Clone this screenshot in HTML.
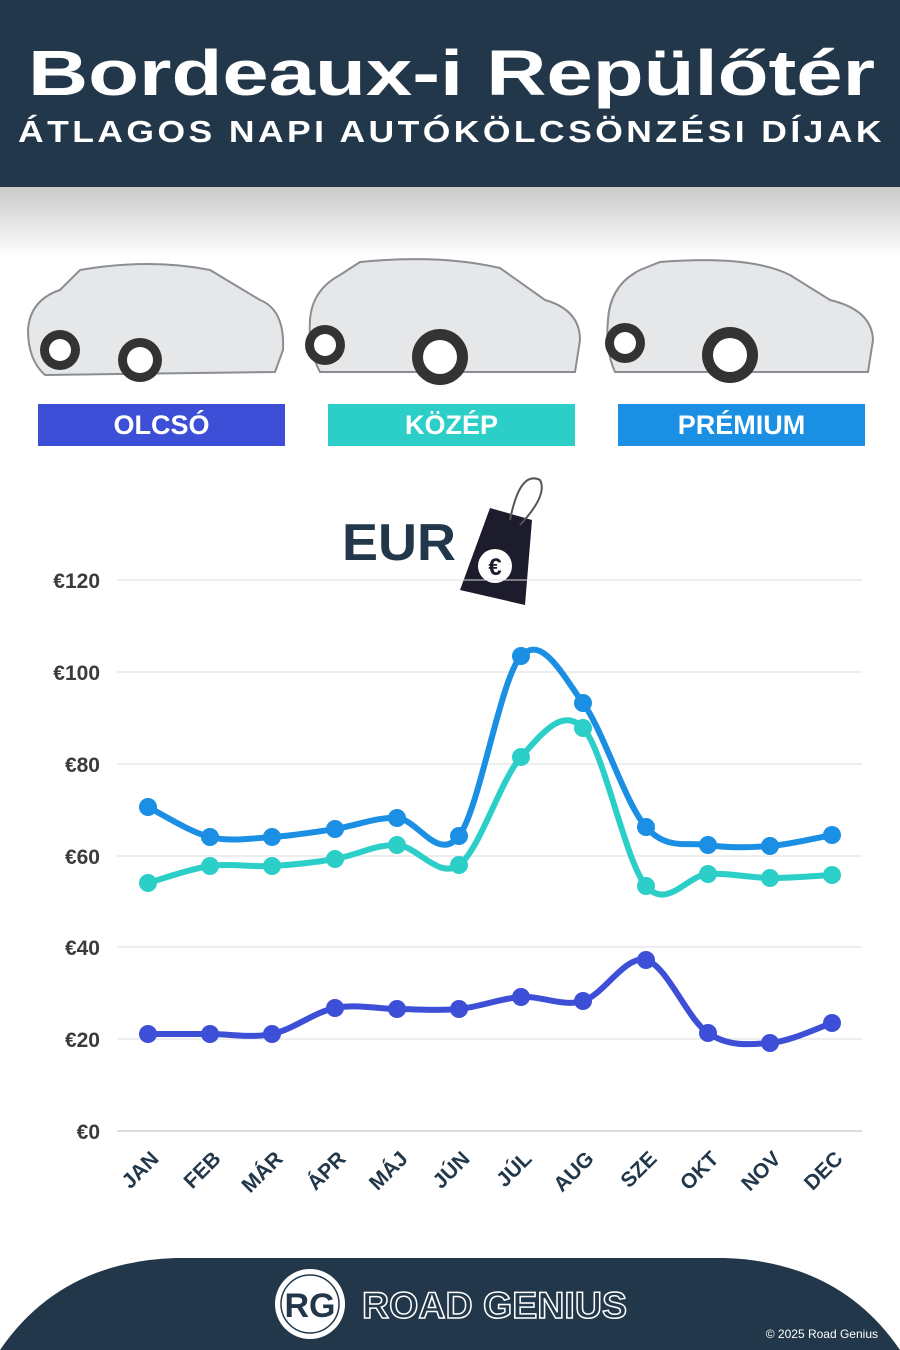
<!DOCTYPE html>
<html><head><meta charset="utf-8"><style>
body{margin:0;width:900px;height:1350px;overflow:hidden;background:#fff;font-family:"Liberation Sans","DejaVu Sans",sans-serif;position:relative}
.hdr{position:absolute;left:0;top:0;width:900px;height:187px;background:#22384a}
.shade{position:absolute;top:187px;left:0;width:900px;height:70px;background:linear-gradient(#c9c9c9,#fff)}
.lab{position:absolute;top:404px;height:42px;width:247px;color:#fff;font-weight:bold;font-size:27px;text-align:center;line-height:42px}
</style></head><body>
<div class="hdr"></div>
<div class="shade"></div>
<svg width="900" height="1350" style="position:absolute;left:0;top:0">
<text x="28" y="95" font-size="64" font-weight="bold" fill="#fff" textLength="847" lengthAdjust="spacingAndGlyphs">Bordeaux-i Repülőtér</text>
<text x="18" y="142" font-size="31" font-weight="bold" fill="#fff" textLength="867" lengthAdjust="spacingAndGlyphs" letter-spacing="3">ÁTLAGOS NAPI AUTÓKÖLCSÖNZÉSI DÍJAK</text>
<g fill="#e6e7e9" stroke="#8a8d92" stroke-width="2">
<path d="M28 330 Q30 300 60 290 L80 270 Q150 258 210 270 L260 300 Q285 310 283 350 L275 372 L45 375 Q28 360 28 330Z"/>
<path d="M310 320 Q312 290 340 275 L360 262 Q440 254 500 268 L545 300 Q580 310 580 340 L575 372 L320 372 Q308 350 310 320Z"/>
<path d="M608 320 Q610 285 640 270 L660 262 Q750 255 790 275 L830 300 Q872 310 873 340 L868 372 L615 372 Q605 350 608 320Z"/>
</g>
<g fill="#333"><circle cx="60" cy="350" r="20"/><circle cx="140" cy="360" r="22"/><circle cx="325" cy="345" r="20"/><circle cx="440" cy="357" r="28"/><circle cx="625" cy="343" r="20"/><circle cx="730" cy="355" r="28"/></g>
<g fill="#fff"><circle cx="60" cy="350" r="11"/><circle cx="140" cy="360" r="13"/><circle cx="325" cy="345" r="11"/><circle cx="440" cy="357" r="17"/><circle cx="625" cy="343" r="11"/><circle cx="730" cy="355" r="17"/></g>
<text x="342" y="560" font-size="52" font-weight="bold" fill="#22384a" textLength="114" lengthAdjust="spacingAndGlyphs">EUR</text>
<path d="M490 508 L532 520 L525 605 L460 590 Z" fill="#1c1c2c"/>
<path d="M510 520 Q520 470 540 480 Q548 495 520 525" fill="none" stroke="#555" stroke-width="2"/>
<circle cx="495" cy="566" r="17" fill="#fff"/><text x="495" y="575" font-size="24" font-weight="bold" text-anchor="middle" fill="#1c1c2c">€</text>
<g stroke="#dcdcdc" stroke-width="1">
<line x1="117" x2="862" y1="580" y2="580"/><line x1="117" x2="862" y1="672" y2="672"/><line x1="117" x2="862" y1="764" y2="764"/><line x1="117" x2="862" y1="856" y2="856"/><line x1="117" x2="862" y1="947" y2="947"/><line x1="117" x2="862" y1="1039" y2="1039"/><line x1="117" x2="862" y1="1131" y2="1131" stroke="#bbb"/></g>
<g font-size="21" font-weight="bold" fill="#3b3b3b" text-anchor="end">
<text x="100" y="588">€120</text><text x="100" y="680">€100</text><text x="100" y="772">€80</text><text x="100" y="864">€60</text><text x="100" y="955">€40</text><text x="100" y="1047">€20</text><text x="100" y="1139">€0</text></g>
<g id="xl" font-size="21" font-weight="bold" fill="#22384a" text-anchor="end"></g>
<g id="series"></g>
<path d="M0 1350 Q60 1262 175 1258 L725 1258 Q840 1262 900 1350Z" fill="#22384a"/>
<circle cx="310" cy="1304" r="35" fill="#fff"/><circle cx="310" cy="1304" r="29" fill="none" stroke="#22384a" stroke-width="1.5"/>
<text x="310" y="1317" font-size="34" font-weight="bold" text-anchor="middle" fill="#22384a">RG</text>
<text x="362" y="1318" font-size="37" font-weight="bold" fill="none" stroke="#fff" stroke-width="1.5" textLength="265" lengthAdjust="spacingAndGlyphs">ROAD GENIUS</text>
<text x="878" y="1338" font-size="12" fill="#fff" text-anchor="end">© 2025 Road Genius</text>
</svg>
<div class="lab" style="left:38px;background:#3d4fd6">OLCSÓ</div>
<div class="lab" style="left:328px;background:#2ccfc8">KÖZÉP</div>
<div class="lab" style="left:618px;background:#1a8fe3">PRÉMIUM</div>
<script>
var xs=[148,210,272,335,397,459,521,583,646,708,770,832];
var mons=["JAN","FEB","MÁR","ÁPR","MÁJ","JÚN","JÚL","AUG","SZE","OKT","NOV","DEC"];
var NS="http://www.w3.org/2000/svg";
var xl=document.getElementById("xl");
mons.forEach(function(m,i){var t=document.createElementNS(NS,"text");t.setAttribute("x",xs[i]+12);t.setAttribute("y",1160);t.setAttribute("transform","rotate(-45 "+(xs[i]+12)+" 1160)");t.textContent=m;xl.appendChild(t);});
var data=[["#1a8fe3",[807,837,837,829,818,836,656,703,827,845,846,835]],
["#2ccfc8",[883,866,866,859,845,865,757,728,886,874,878,875]],
["#3d4fd6",[1034,1034,1034,1008,1009,1009,997,1001,960,1033,1043,1023]]];
var g=document.getElementById("series");
data.forEach(function(s){var y=s[1],d="M"+xs[0]+" "+y[0];
for(var i=0;i<11;i++){var p0=i?i-1:0,p3=i<10?i+2:11;
var c1x=xs[i]+(xs[i+1]-xs[p0])/6,c1y=y[i]+(y[i+1]-y[p0])/6,c2x=xs[i+1]-(xs[p3]-xs[i])/6,c2y=y[i+1]-(y[p3]-y[i])/6;
d+=" C"+c1x+" "+c1y+" "+c2x+" "+c2y+" "+xs[i+1]+" "+y[i+1];}
var p=document.createElementNS(NS,"path");p.setAttribute("d",d);p.setAttribute("fill","none");p.setAttribute("stroke",s[0]);p.setAttribute("stroke-width","6");g.appendChild(p);
y.forEach(function(v,i){var c=document.createElementNS(NS,"circle");c.setAttribute("cx",xs[i]);c.setAttribute("cy",v);c.setAttribute("r","9");c.setAttribute("fill",s[0]);g.appendChild(c);});});
</script>
</body></html>
